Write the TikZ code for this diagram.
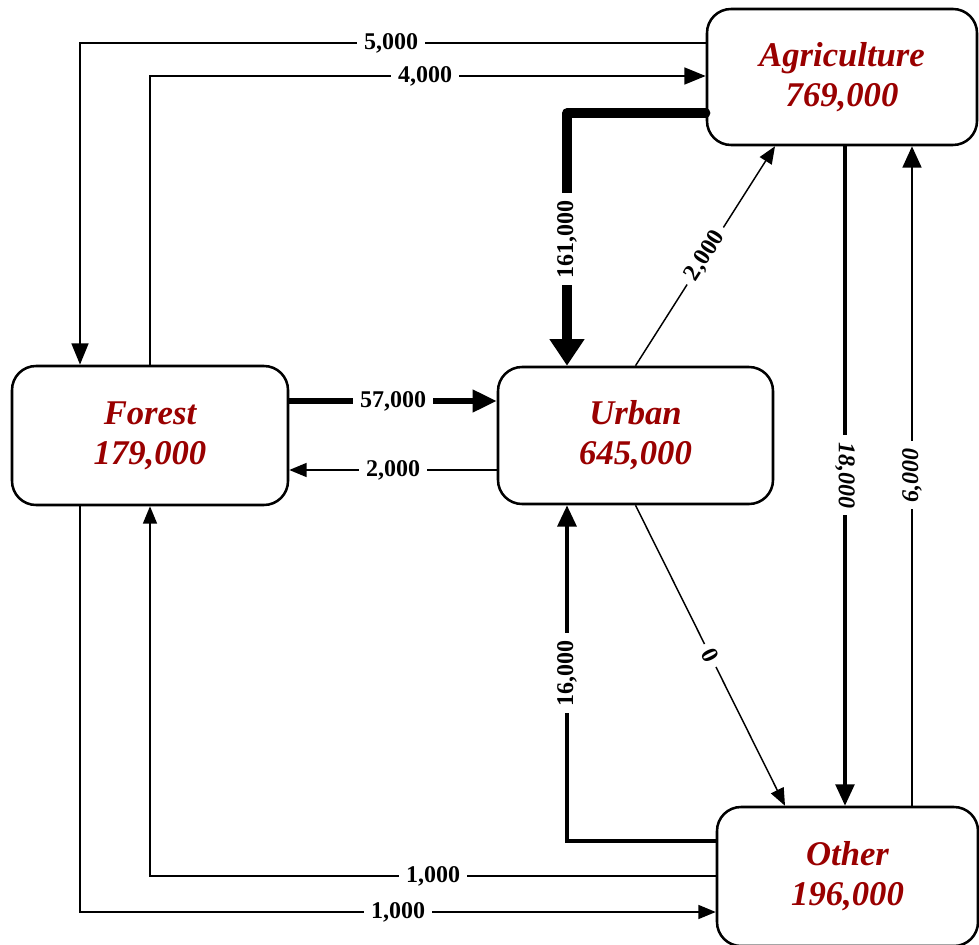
\documentclass[tikz,border=0pt]{standalone}
\usepackage{fontspec}
\setmainfont{Liberation Serif}
\usetikzlibrary{arrows.meta}
\definecolor{boxred}{RGB}{153,0,0}
\begin{document}
\begin{tikzpicture}[x=0.75pt,y=-0.75pt,
  box/.style={draw=black, line width=1.9pt, rounded corners=18pt, fill=white,
    align=center, text=boxred, inner sep=0pt,
    font=\fontsize{26}{30}\selectfont\bfseries\itshape},
  lbl/.style={fill=white, text=black, inner xsep=5pt, inner ysep=1pt,
    font=\fontsize{18}{20}\selectfont\bfseries},
  ilbl/.style={lbl, font=\fontsize{18}{20}\selectfont\bfseries\itshape},
  wone/.style={line width=1.1pt},
  wtwo/.style={line width=2pt},
  wthree/.style={line width=2.5pt},
  wfour/.style={line width=3.2pt},
  wfive/.style={line width=4.4pt},
  wsix/.style={line width=7pt},
  tipS/.style={-{Triangle[length=13pt,width=10.5pt]}},
  tipM/.style={-{Triangle[length=16pt,width=12.5pt]}},
  tipN/.style={-{Triangle[length=16pt,width=14pt]}},
  tipL/.style={-{Triangle[length=18pt,width=16pt]}},
  tipX/.style={-{Triangle[length=20pt,width=25pt]}}
]
\useasboundingbox (0,0) rectangle (979,945);

% boxes
\node[box, minimum width=202.5pt, minimum height=102pt] (Agri) at (842,77) {Agriculture\\769,000};
\node[box, minimum width=207pt, minimum height=104.25pt] (Forest) at (150,435.5) {Forest\\179,000};
\node[box, minimum width=206.25pt, minimum height=102.75pt] (Urban) at (635.5,435.5) {Urban\\645,000};
\node[box, minimum width=195.75pt, minimum height=104.25pt] (Other) at (847.5,876.5) {Other\\196,000};

% Agriculture -> Forest (5,000)
\draw[wtwo, tipM] (Agri.west |- 0,43) -| (80,0 |- Forest.north);
\node[lbl] (l5000) at (391,43) {5,000};

% Forest -> Agriculture (4,000)
\draw[wtwo, tipM] (Forest.north) |- (Agri.west |- 0,76);
\node[lbl] (l4000) at (425,76) {4,000};

% Agriculture -> Urban (161,000)
\draw[wsix, line cap=round, line join=round, tipX] (Agri.west |- 0,113) -| (567,0 |- Urban.north);
\node[lbl, rotate=90] (l161000) at (567,239) {161,000};

% Urban -> Agriculture (2,000)
\draw[wone, tipS] (Urban.north) -- node[lbl, sloped] (l2000a) {2,000} (775,0 |- Agri.south);

% Forest -> Urban (57,000)
\draw[wfive, tipL] (Forest.east |- 0,401) -- (Urban.west |- 0,401);
\node[lbl] (l57000) at (393,401) {57,000};

% Urban -> Forest (2,000)
\draw[wone, tipS] (Urban.west |- 0,470) -- (Forest.east |- 0,470);
\node[lbl] (l2000b) at (393,470) {2,000};

% Agriculture -> Other (18,000)
\draw[wthree, tipN] (845,0 |- Agri.south) -- (845,0 |- Other.north);
\node[ilbl, rotate=-90] (l18000) at (845,475) {18,000};

% Other -> Agriculture (6,000)
\draw[wtwo, tipN] (912,0 |- Other.north) -- (912,0 |- Agri.south);
\node[ilbl, rotate=90] (l6000) at (912,475) {6,000};

% Urban -> Other (0)
\draw[wone, tipS] (Urban.south) -- node[lbl, sloped] (l0) {0} (785,0 |- Other.north);

% Other -> Urban (16,000)
\draw[wfour, tipN] (Other.west |- 0,841) -| (Urban.south -| 567,0);
\node[lbl, rotate=90] (l16000) at (567,673) {16,000};

% Other -> Forest (1,000)
\draw[wone, tipS] (Other.west |- 0,876) -| (Forest.south);
\node[lbl] (l1000a) at (433,876) {1,000};

% Forest -> Other (1,000)
\draw[wone, tipS] (80,0 |- Forest.south) |- (Other.west |- 0,912);
\node[lbl] (l1000b) at (398,912) {1,000};
\end{tikzpicture}
\end{document}
